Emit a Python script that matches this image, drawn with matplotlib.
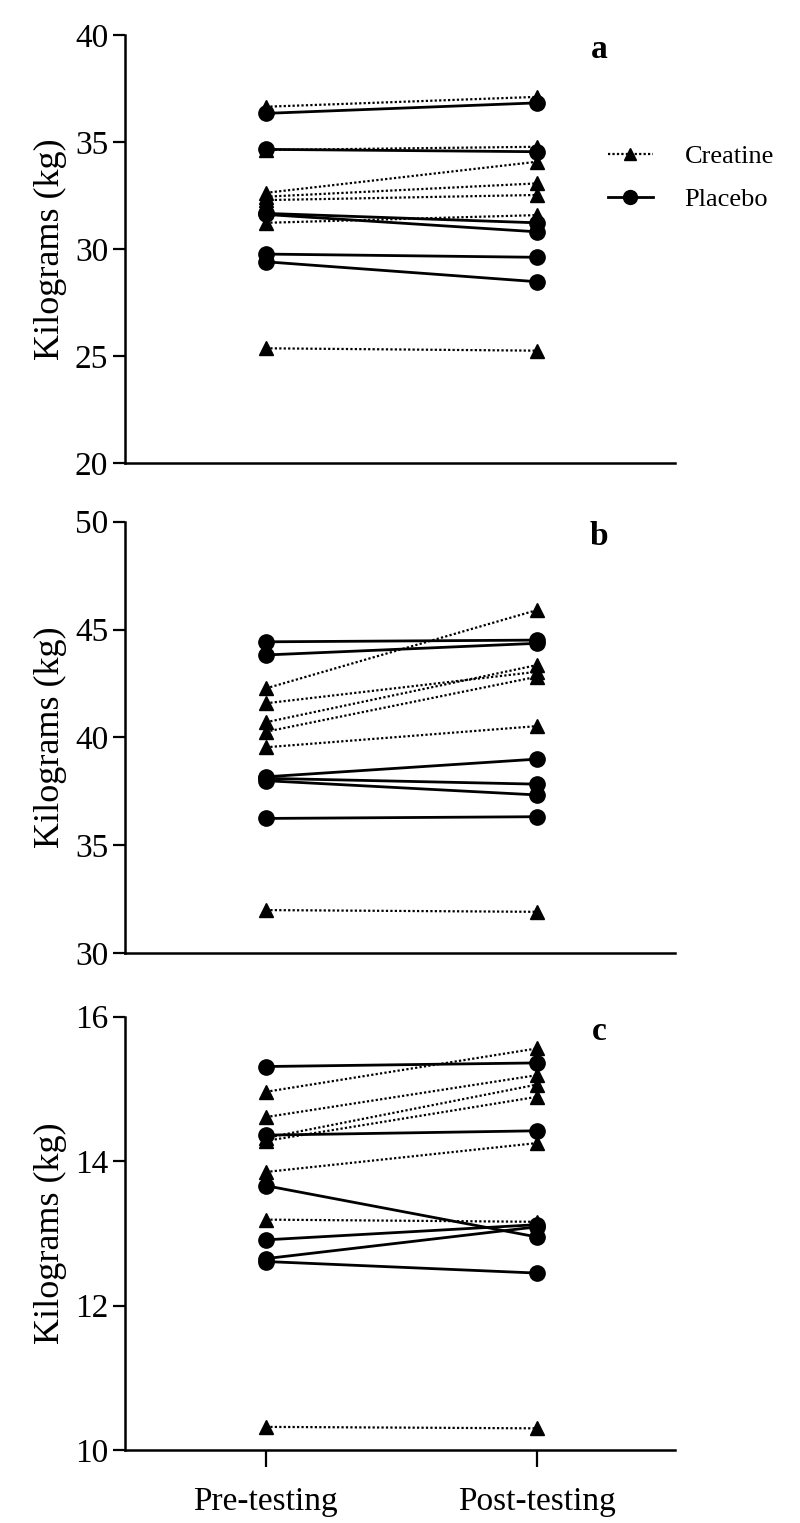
import matplotlib
matplotlib.use("Agg")
import matplotlib.pyplot as plt
from matplotlib.lines import Line2D

plt.rcParams['font.family'] = ['Liberation Serif', 'DejaVu Serif']

timepoints = ["Pre-testing", "Post-testing"]

# panel a
a_creatine_pre = [36.65, 34.63, 32.63, 32.45, 32.29, 31.23, 25.37]
a_creatine_post = [37.11, 34.78, 34.08, 33.07, 32.53, 31.59, 25.26]
a_placebo_pre = [36.34, 34.66, 31.67, 31.62, 29.77, 29.41]
a_placebo_post = [36.83, 34.55, 31.23, 30.81, 29.62, 28.48]

# panel b
b_creatine_pre = [42.27, 41.58, 40.70, 40.26, 39.54, 31.99]
b_creatine_post = [45.90, 43.04, 43.35, 42.81, 40.52, 31.91]
b_placebo_pre = [44.43, 43.82, 38.17, 38.10, 37.99, 36.24]
b_placebo_post = [44.51, 44.36, 38.99, 37.83, 37.33, 36.32]

# panel c
c_creatine_pre = [14.96, 14.61, 14.32, 14.28, 13.85, 13.19, 10.32]
c_creatine_post = [15.56, 15.19, 15.06, 14.89, 14.25, 13.16, 10.30]
c_placebo_pre = [15.31, 14.36, 13.66, 12.91, 12.65, 12.61]
c_placebo_post = [15.36, 14.42, 12.95, 13.12, 13.09, 12.45]

panels = [
    ("a", a_creatine_pre, a_creatine_post, a_placebo_pre, a_placebo_post, (20, 40), [20, 25, 30, 35, 40]),
    ("b", b_creatine_pre, b_creatine_post, b_placebo_pre, b_placebo_post, (30, 50), [30, 35, 40, 45, 50]),
    ("c", c_creatine_pre, c_creatine_post, c_placebo_pre, c_placebo_post, (10, 16), [10, 12, 14, 16]),
]

W, H = 800, 1523
fig = plt.figure(figsize=(W / 100, H / 100), dpi=100)

# axes boxes in pixels: (top, bottom)
boxes = [(35, 463.3), (521.7, 953), (1016.7, 1450)]
left_px, right_px = 125, 675

for i, (letter, cpre, cpost, ppre, ppost, ylim, yticks) in enumerate(panels):
    top, bottom = boxes[i]
    ax = fig.add_axes([left_px / W, 1 - bottom / H, (right_px - left_px) / W, (bottom - top) / H])
    for y0, y1 in zip(cpre, cpost):
        ax.plot([0, 1], [y0, y1], linestyle=(0, (1, 1)), color="black", linewidth=1.6,
                marker="^", markersize=10, clip_on=False)
    for y0, y1 in zip(ppre, ppost):
        ax.plot([0, 1], [y0, y1], linestyle="-", color="black", linewidth=2,
                marker="o", markersize=11, clip_on=False)
    ax.set_xlim(-0.52, 1.51)
    ax.set_ylim(*ylim)
    ax.set_yticks(yticks)
    ax.tick_params(axis="y", labelsize=24, length=9, width=1.6, direction="out", pad=3)
    ax.spines["top"].set_visible(False)
    ax.spines["right"].set_visible(False)
    ax.spines["left"].set_linewidth(1.8)
    ax.spines["bottom"].set_linewidth(1.8)
    ax.set_ylabel("Kilograms (kg)", fontsize=26, labelpad=6)
    if i == 2:
        ax.set_xticks([0, 1])
        ax.set_xticklabels(timepoints)
        ax.tick_params(axis="x", labelsize=24, length=12, width=1.6, pad=14)
    else:
        ax.set_xticks([])
    ax.text(1.23, ylim[1] - (ylim[1] - ylim[0]) * 0.035, letter, fontsize=24,
            fontweight="bold", ha="center", va="center")
    if i == 0:
        handles = [
            Line2D([], [], linestyle=(0, (1, 1)), color="black", linewidth=1.6, marker="^", markersize=9),
            Line2D([], [], linestyle="-", color="black", linewidth=2, marker="o", markersize=10),
        ]
        ax.legend(handles, ["Creatine", "Placebo"], loc="upper left",
                  bbox_to_anchor=(0.835, 0.80), frameon=False, fontsize=19,
                  handlelength=1.7, labelspacing=0.75, handletextpad=1.2)

fig.savefig("out.png", dpi=100)
